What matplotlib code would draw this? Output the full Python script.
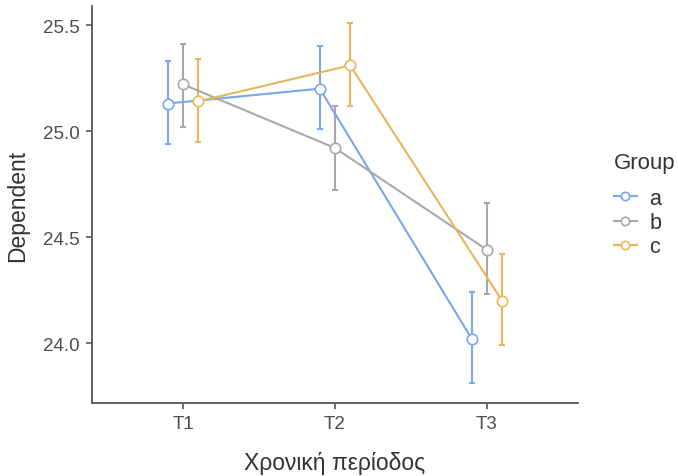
import matplotlib
matplotlib.use("Agg")
import matplotlib.pyplot as plt
import numpy as np

periods = ["T1", "T2", "T3"]
groups = ["a", "b", "c"]
means = {
    "a": [25.13, 25.20, 24.02],
    "b": [25.22, 24.92, 24.44],
    "c": [25.14, 25.31, 24.20],
}
lower = {
    "a": [24.94, 25.01, 23.81],
    "b": [25.02, 24.72, 24.23],
    "c": [24.95, 25.12, 23.99],
}
upper = {
    "a": [25.33, 25.40, 24.24],
    "b": [25.41, 25.12, 24.66],
    "c": [25.34, 25.51, 24.42],
}
colors = {"a": "#7BA6E9", "b": "#A9A9A9", "c": "#E9B55A"}
offsets = {"a": -0.1, "b": 0.0, "c": 0.1}

plt.rcParams['font.family'] = ['Liberation Sans', 'DejaVu Sans']

fig = plt.figure(figsize=(6.78, 4.77), dpi=100)
ax = fig.add_axes([92/678, 73/477, (578-92)/678, (404-7)/477])

x = np.arange(1, len(periods) + 1)
handles = []
for g in groups:
    xs = x + offsets[g]
    m = np.array(means[g])
    lo = m - np.array(lower[g])
    hi = np.array(upper[g]) - m
    ax.errorbar(xs, m, yerr=[lo, hi], fmt='none', ecolor=colors[g],
                elinewidth=1.5, capsize=2, capthick=1.5, zorder=2)
    h, = ax.plot(xs, m, color=colors[g], lw=1.5, marker='o', ms=7.5,
                 mfc='white', mec=colors[g], mew=1.2, zorder=3, label=g)
    handles.append(h)

ax.set_xlim(0.4, 3.6)
ax.set_ylim(23.717, 25.59)
ax.set_xticks(x)
ax.set_xticklabels(periods)
ax.set_yticks([24.0, 24.5, 25.0, 25.5])
ax.set_yticklabels(["24.0", "24.5", "25.0", "25.5"])

for s in ["top", "right"]:
    ax.spines[s].set_visible(False)
for s in ["left", "bottom"]:
    ax.spines[s].set_color("#555555")
    ax.spines[s].set_linewidth(1.3)
ax.tick_params(axis='both', colors="#555555", length=4, width=1.2,
               labelsize=13.5, labelcolor="#4D4D4D", pad=5)

ax.set_xlabel("Χρονική περίοδος", fontsize=16.5, color="#333333", labelpad=13)
ax.set_ylabel("Dependent", fontsize=16.5, color="#333333", labelpad=10)

fig.text(614/678, 1 - 163/477, "Group", fontsize=16, color="#333333",
         ha='left', va='center')
leg = fig.legend(handles=handles, labels=groups,
                 loc='upper left', bbox_to_anchor=(614/678, 1 - 189/477),
                 frameon=False, fontsize=15.5, borderpad=0, borderaxespad=0,
                 handlelength=1.05, handletextpad=0.6, labelspacing=0.15,
                 markerscale=0.8)
for t in leg.get_texts():
    t.set_color("#333333")

fig.savefig("out.png", dpi=100)
